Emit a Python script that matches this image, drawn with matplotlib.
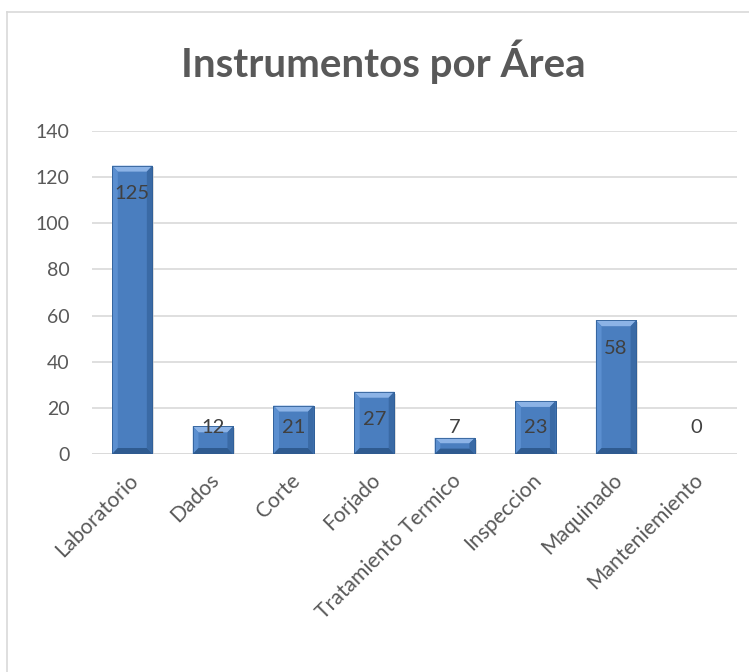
import matplotlib
matplotlib.use("Agg")
import matplotlib.pyplot as plt
from matplotlib.patches import Polygon, Rectangle
from matplotlib.transforms import ScaledTranslation

areas = ["Laboratorio", "Dados", "Corte", "Forjado", "Tratamiento Termico",
         "Inspeccion", "Maquinado", "Manteniemiento"]
instrumentos = [125, 12, 21, 27, 7, 23, 58, 0]
y_ticks = [0, 20, 40, 60, 80, 100, 120, 140]

plt.rcParams['font.family'] = ['Lato', 'DejaVu Sans']

fig = plt.figure(figsize=(7.49, 6.72), dpi=100)
fig.patch.set_facecolor('white')

# chart border (left and top visible)
fig.add_artist(plt.Line2D([7/749, 7/749], [0, 1 - 12/672], color='#d9d9d9', lw=1.2,
                          transform=fig.transFigure))
fig.add_artist(plt.Line2D([7/749, 1], [1 - 12/672, 1 - 12/672], color='#d9d9d9', lw=1.2,
                          transform=fig.transFigure))

ax = fig.add_axes([92/749, 1 - 454/672, 645/749, 323/672])
ax.set_xlim(-0.5, len(areas) - 0.5)
ax.set_ylim(0, 140)
ax.set_yticks(y_ticks)
ax.set_yticklabels([str(t) for t in y_ticks], fontsize=14, color='#595959')
ax.tick_params(axis='y', length=0, pad=16)
ax.tick_params(axis='x', length=0, pad=0)
for s in ax.spines.values():
    s.set_visible(False)
ax.grid(axis='y', color='#d9d9d9', lw=1.2)
ax.set_axisbelow(True)

x = range(len(areas))
bars = ax.bar(x, instrumentos, width=0.5, color='#4a7ebf', edgecolor='#2f5f98',
              lw=0.6, zorder=3)

# bevel effect derived from each bar's geometry
bx = 0.07
by = 2.6
for b in bars:
    x0, w, h = b.get_x(), b.get_width(), b.get_height()
    if h <= 0:
        continue
    x1 = x0 + w
    byy = min(by, h / 3)
    # shadow
    ax.add_patch(Rectangle((x0 + 0.02, -0.8), w, h, color='#c8c8c8', alpha=0.6,
                           zorder=2, lw=0))
    ax.add_patch(Polygon([(x0, h), (x1, h), (x1 - bx, h - byy), (x0 + bx, h - byy)],
                         closed=True, color='#8cb3e6', zorder=4, lw=0))
    ax.add_patch(Polygon([(x0, h), (x0 + bx, h - byy), (x0 + bx, byy), (x0, 0)],
                         closed=True, color='#5b8fd0', zorder=4, lw=0))
    ax.add_patch(Polygon([(x1, h), (x1 - bx, h - byy), (x1 - bx, byy), (x1, 0)],
                         closed=True, color='#3a6aa5', zorder=4, lw=0))
    ax.add_patch(Polygon([(x0, 0), (x1, 0), (x1 - bx, byy), (x0 + bx, byy)],
                         closed=True, color='#2f5b90', zorder=4, lw=0))
    ax.add_patch(Rectangle((x0, 0), w, h, fill=False, ec='#2f5f98', lw=0.6, zorder=5))

for i, v in enumerate(instrumentos):
    ax.text(i, max(v - 12.2, 11.3), str(v), ha='center', va='center',
            fontsize=14.5, color='#404040', zorder=6)

ax.set_xticks(list(x))
ax.set_xticklabels(areas, rotation=45, ha='right', va='top', rotation_mode='anchor',
                   fontsize=15.2, color='#595959')
offset = ScaledTranslation(-0.04, -0.16, fig.dpi_scale_trans)
for lbl in ax.get_xticklabels():
    lbl.set_transform(lbl.get_transform() + offset)
ax.axhline(0, color='#d9d9d9', lw=1.2, zorder=1)

fig.text(383/749, 1 - 62/672, "Instrumentos por Área", ha='center', va='center',
         fontsize=29, fontweight='bold', color='#595959')

fig.savefig("out.png", dpi=100)
